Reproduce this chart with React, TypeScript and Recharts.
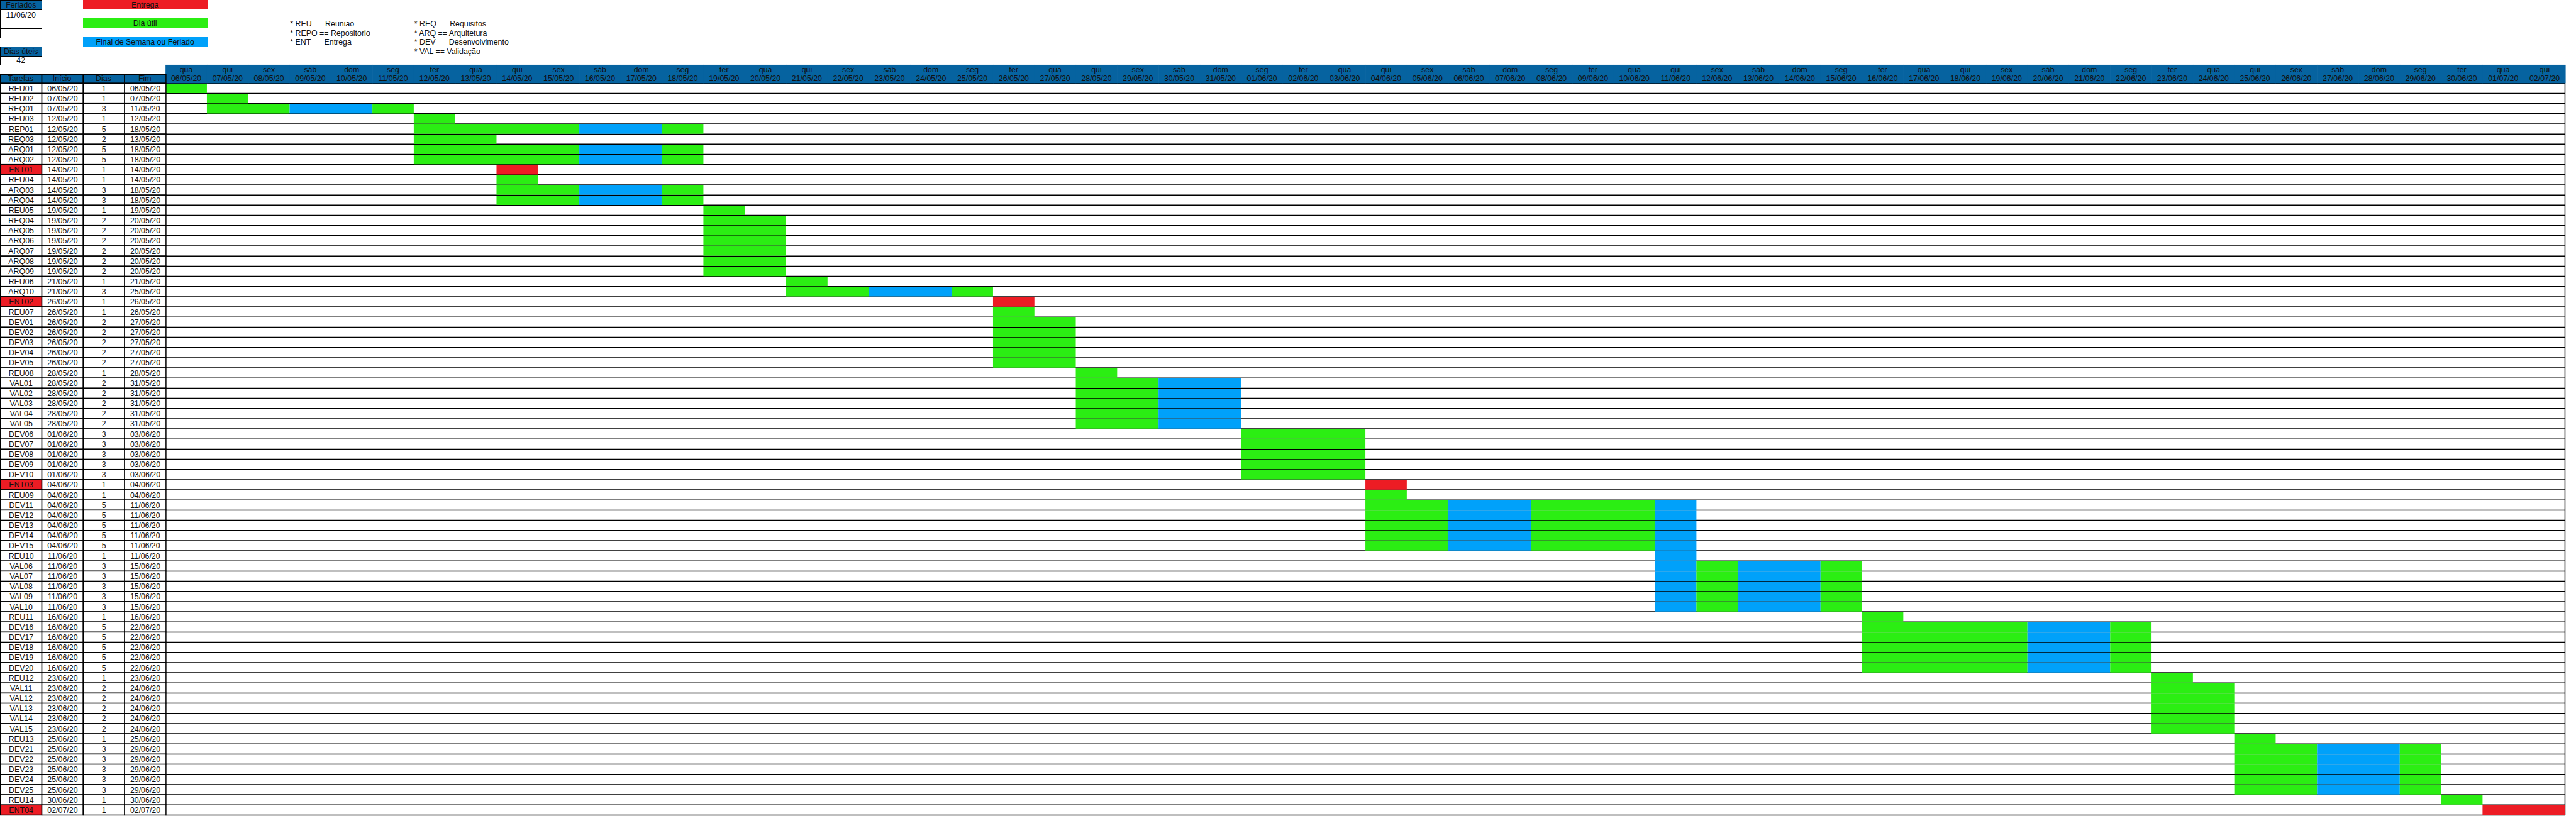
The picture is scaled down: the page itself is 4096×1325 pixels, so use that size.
import React from 'react';
import { BarChart, Bar, XAxis, YAxis, CartesianGrid, Cell } from 'recharts';

// ---------- data ----------
const weekdays = [
  'qua', 'qui', 'sex', 'sáb', 'dom', 'seg', 'ter',
  'qua', 'qui', 'sex', 'sáb', 'dom', 'seg', 'ter',
  'qua', 'qui', 'sex', 'sáb', 'dom', 'seg', 'ter',
  'qua', 'qui', 'sex', 'sáb', 'dom', 'seg', 'ter',
  'qua', 'qui', 'sex', 'sáb', 'dom', 'seg', 'ter',
  'qua', 'qui', 'sex', 'sáb', 'dom', 'seg', 'ter',
  'qua', 'qui', 'sex', 'sáb', 'dom', 'seg', 'ter',
  'qua', 'qui', 'sex', 'sáb', 'dom', 'seg', 'ter',
  'qua', 'qui',
];
const dates = [
  '06/05/20', '07/05/20', '08/05/20', '09/05/20', '10/05/20', '11/05/20', '12/05/20',
  '13/05/20', '14/05/20', '15/05/20', '16/05/20', '17/05/20', '18/05/20', '19/05/20',
  '20/05/20', '21/05/20', '22/05/20', '23/05/20', '24/05/20', '25/05/20', '26/05/20',
  '27/05/20', '28/05/20', '29/05/20', '30/05/20', '31/05/20', '01/06/20', '02/06/20',
  '03/06/20', '04/06/20', '05/06/20', '06/06/20', '07/06/20', '08/06/20', '09/06/20',
  '10/06/20', '11/06/20', '12/06/20', '13/06/20', '14/06/20', '15/06/20', '16/06/20',
  '17/06/20', '18/06/20', '19/06/20', '20/06/20', '21/06/20', '22/06/20', '23/06/20',
  '24/06/20', '25/06/20', '26/06/20', '27/06/20', '28/06/20', '29/06/20', '30/06/20',
  '01/07/20', '02/07/20',
];
const holidays = ['11/06/20'];

const tasks = [
  'REU01', 'REU02', 'REQ01', 'REU03', 'REP01', 'REQ03', 'ARQ01', 'ARQ02', 'ENT01', 'REU04',
  'ARQ03', 'ARQ04', 'REU05', 'REQ04', 'ARQ05', 'ARQ06', 'ARQ07', 'ARQ08', 'ARQ09', 'REU06',
  'ARQ10', 'ENT02', 'REU07', 'DEV01', 'DEV02', 'DEV03', 'DEV04', 'DEV05', 'REU08', 'VAL01',
  'VAL02', 'VAL03', 'VAL04', 'VAL05', 'DEV06', 'DEV07', 'DEV08', 'DEV09', 'DEV10', 'ENT03',
  'REU09', 'DEV11', 'DEV12', 'DEV13', 'DEV14', 'DEV15', 'REU10', 'VAL06', 'VAL07', 'VAL08',
  'VAL09', 'VAL10', 'REU11', 'DEV16', 'DEV17', 'DEV18', 'DEV19', 'DEV20', 'REU12', 'VAL11',
  'VAL12', 'VAL13', 'VAL14', 'VAL15', 'REU13', 'DEV21', 'DEV22', 'DEV23', 'DEV24', 'DEV25',
  'REU14', 'ENT04',
];
const inicio = [
  '06/05/20', '07/05/20', '07/05/20', '12/05/20', '12/05/20', '12/05/20', '12/05/20', '12/05/20', '14/05/20', '14/05/20',
  '14/05/20', '14/05/20', '19/05/20', '19/05/20', '19/05/20', '19/05/20', '19/05/20', '19/05/20', '19/05/20', '21/05/20',
  '21/05/20', '26/05/20', '26/05/20', '26/05/20', '26/05/20', '26/05/20', '26/05/20', '26/05/20', '28/05/20', '28/05/20',
  '28/05/20', '28/05/20', '28/05/20', '28/05/20', '01/06/20', '01/06/20', '01/06/20', '01/06/20', '01/06/20', '04/06/20',
  '04/06/20', '04/06/20', '04/06/20', '04/06/20', '04/06/20', '04/06/20', '11/06/20', '11/06/20', '11/06/20', '11/06/20',
  '11/06/20', '11/06/20', '16/06/20', '16/06/20', '16/06/20', '16/06/20', '16/06/20', '16/06/20', '23/06/20', '23/06/20',
  '23/06/20', '23/06/20', '23/06/20', '23/06/20', '25/06/20', '25/06/20', '25/06/20', '25/06/20', '25/06/20', '25/06/20',
  '30/06/20', '02/07/20',
];
const dias = [
  1, 1, 3, 1, 5, 2, 5, 5, 1, 1,
  3, 3, 1, 2, 2, 2, 2, 2, 2, 1,
  3, 1, 1, 2, 2, 2, 2, 2, 1, 2,
  2, 2, 2, 2, 3, 3, 3, 3, 3, 1,
  1, 5, 5, 5, 5, 5, 1, 3, 3, 3,
  3, 3, 1, 5, 5, 5, 5, 5, 1, 2,
  2, 2, 2, 2, 1, 3, 3, 3, 3, 3,
  1, 1,
];
const fim = [
  '06/05/20', '07/05/20', '11/05/20', '12/05/20', '18/05/20', '13/05/20', '18/05/20', '18/05/20', '14/05/20', '14/05/20',
  '18/05/20', '18/05/20', '19/05/20', '20/05/20', '20/05/20', '20/05/20', '20/05/20', '20/05/20', '20/05/20', '21/05/20',
  '25/05/20', '26/05/20', '26/05/20', '27/05/20', '27/05/20', '27/05/20', '27/05/20', '27/05/20', '28/05/20', '31/05/20',
  '31/05/20', '31/05/20', '31/05/20', '31/05/20', '03/06/20', '03/06/20', '03/06/20', '03/06/20', '03/06/20', '04/06/20',
  '04/06/20', '11/06/20', '11/06/20', '11/06/20', '11/06/20', '11/06/20', '11/06/20', '15/06/20', '15/06/20', '15/06/20',
  '15/06/20', '15/06/20', '16/06/20', '22/06/20', '22/06/20', '22/06/20', '22/06/20', '22/06/20', '23/06/20', '24/06/20',
  '24/06/20', '24/06/20', '24/06/20', '24/06/20', '25/06/20', '29/06/20', '29/06/20', '29/06/20', '29/06/20', '29/06/20',
  '30/06/20', '02/07/20',
];
// the drawn bar for ENT04 covers 01/07 and 02/07 in the picture
const barOverrides: Record<string, [string, string]> = { ENT04: ['01/07/20', '02/07/20'] };

const diasUteis = 42;
const legendItems = [
  { label: 'Entrega', color: '#ED1C24' },
  { label: 'Dia útil', color: '#2BEE13' },
  { label: 'Final de Semana ou Feriado', color: '#00A1FA' },
];
const notesLeft = ['* REU == Reuniao', '* REPO == Repositorio', '* ENT == Entrega'];
const notesRight = ['* REQ == Requisitos', '* ARQ == Arquitetura', '* DEV == Desenvolvimento', '* VAL == Validação'];
const tableHeaders = ['Tarefas', 'Início', 'Dias', 'Fim'];

// ---------- style ----------
const S = 0.774;
const W = 4096;
const H = 1325;
const FONT = '"Liberation Sans", Arial, Helvetica, sans-serif';
const FS = 12.4;
const TXT = '#111';
const HEAD = '#0663A0';
const GREEN = '#2BEE13';
const BLUE = '#00A1FA';
const RED = '#ED1C24';
const COL = 85 * S;
const MARGIN = { top: 133 * S, right: W - 5270 * S, bottom: H - 1675 * S, left: 0 };
const XAXIS_H = 38 * S;
const PLOT_TOP = MARGIN.top + XAXIS_H;
const PLOT_H = H - MARGIN.bottom - PLOT_TOP;
const BAND = PLOT_H / tasks.length;
const PLOT_W = W - MARGIN.right - 4 * COL;
const DAY_W = PLOT_W / dates.length;

// ---------- derived chart rows ----------
const isOff = (i: number) =>
  weekdays[i] === 'sáb' || weekdays[i] === 'dom' || holidays.includes(dates[i]);
const MAXSEG = 4;
const rows = tasks.map((t, k) => {
  const [from, to] = barOverrides[t] ?? [inicio[k], fim[k]];
  const a = dates.indexOf(from);
  const b = dates.indexOf(to);
  const runs: { color: string; len: number }[] = [];
  for (let i = a; i <= b; i++) {
    const c = t.startsWith('ENT') ? RED : isOff(i) ? BLUE : GREEN;
    if (runs.length && runs[runs.length - 1].color === c) runs[runs.length - 1].len += 1;
    else runs.push({ color: c, len: 1 });
  }
  const row: any = { task: t, pad: a, colors: runs.map((r) => r.color) };
  for (let s = 0; s < MAXSEG; s++) row['s' + s] = runs[s] ? runs[s].len : 0;
  return row;
});
const tickVals = dates.map((_, i) => i + 0.5);

// ---------- ticks ----------
const DayTick = (props: any) => {
  const { x, payload } = props;
  const i = Math.floor(payload.value);
  const first = i === 0;
  return (
    <g>
      <rect x={x - DAY_W / 2} y={MARGIN.top} width={DAY_W + 0.6} height={XAXIS_H} fill={HEAD} />
      <text x={x} y={144 * S} textAnchor="middle" dominantBaseline="central" fontSize={FS} fill={TXT} fontFamily={FONT}>
        {weekdays[i]}
      </text>
      <text x={x} y={162 * S} textAnchor="middle" dominantBaseline="central" fontSize={FS} fill={TXT} fontFamily={FONT}>
        {dates[i]}
      </text>
      {first &&
        tableHeaders.map((h, c) => (
          <g key={h}>
            <rect x={c * COL + 0.75} y={153 * S} width={COL} height={PLOT_TOP - 153 * S} fill={HEAD} stroke="#000" strokeWidth={1.5} />
            <text x={c * COL + COL / 2} y={(153 * S + PLOT_TOP) / 2} textAnchor="middle" dominantBaseline="central" fontSize={FS} fill={TXT} fontFamily={FONT}>
              {h}
            </text>
          </g>
        ))}
    </g>
  );
};

const TaskTick = (props: any) => {
  const { y, payload } = props;
  const k = tasks.indexOf(payload.value);
  if (k < 0) return null;
  const ent = tasks[k].startsWith('ENT');
  const cells = [tasks[k], inicio[k], String(dias[k]), fim[k]];
  const top = y - BAND / 2;
  return (
    <g>
      {cells.map((txt, c) => (
        <g key={c}>
          <rect x={c * COL + 0.75} y={top} width={COL} height={BAND} fill={c === 0 && ent ? RED : '#fff'} stroke="#000" strokeWidth={1.5} />
          <text x={c * COL + COL / 2 + 0.75} y={y + 0.5} textAnchor="middle" dominantBaseline="central" fontSize={FS} fill={TXT} fontFamily={FONT}>
            {txt}
          </text>
        </g>
      ))}
    </g>
  );
};

// ---------- html side boxes ----------
const Box = ({ left, top, width, height, bg, text, border }: any) => (
  <div
    style={{
      position: 'absolute', left, top, width, height, background: bg,
      border: border ? '1.5px solid #000' : 'none', boxSizing: 'border-box',
      display: 'flex', alignItems: 'center', justifyContent: 'center',
      fontSize: FS, color: TXT, fontFamily: FONT, whiteSpace: 'nowrap',
    }}
  >
    {text}
  </div>
);

export default function App() {
  const ferTops = [0, 20, 39, 58, 77].map((v) => v * S);
  const ferTexts = ['Feriados', holidays[0] ?? '', '', ''];
  const legTops = [0, 38, 76];
  return (
    <div style={{ position: 'absolute', left: 0, top: 0, width: W, height: H, background: '#fff', overflow: 'hidden', fontFamily: FONT }}>
      {ferTexts.map((t, i) => (
        <Box key={i} left={0} top={ferTops[i]} width={COL + 0.75} height={ferTops[i + 1] - ferTops[i] + 1.5} bg={i === 0 ? HEAD : '#fff'} text={t} border />
      ))}
      <Box left={0} top={96 * S} width={COL + 0.75} height={19 * S + 1.5} bg={HEAD} text="Dias úteis" border />
      <Box left={0} top={115 * S} width={COL + 0.75} height={19 * S} bg="#fff" text={String(diasUteis)} border />
      {legendItems.map((it, i) => (
        <Box key={it.label} left={170 * S} top={legTops[i] * S} width={256 * S} height={20 * S} bg={it.color} text={it.label} />
      ))}
      {notesLeft.map((n, i) => (
        <div key={n} style={{ position: 'absolute', left: 596 * S, top: (49 + 19 * i) * S - 8, height: 16, lineHeight: '16px', fontSize: FS, color: TXT, whiteSpace: 'nowrap' }}>
          {n}
        </div>
      ))}
      {notesRight.map((n, i) => (
        <div key={n} style={{ position: 'absolute', left: 851 * S, top: (49 + 19 * i) * S - 8, height: 16, lineHeight: '16px', fontSize: FS, color: TXT, whiteSpace: 'nowrap' }}>
          {n}
        </div>
      ))}
      <div style={{ position: 'absolute', left: 0, top: 0 }}>
        <BarChart width={W} height={H} data={rows} layout="vertical" margin={MARGIN} barCategoryGap={0.75}>
          <CartesianGrid
            stroke="#000"
            strokeWidth={1.5}
            horizontal
            vertical
            horizontalCoordinatesGenerator={({ offset }: any) =>
              Array.from({ length: tasks.length + 1 }, (_, i) => offset.top + (i * offset.height) / tasks.length)
            }
            verticalCoordinatesGenerator={({ offset }: any) => [offset.left + offset.width - 0.5]}
          />
          <XAxis
            type="number"
            orientation="top"
            domain={[0, dates.length]}
            ticks={tickVals}
            interval={0}
            height={XAXIS_H}
            tick={<DayTick />}
            tickLine={false}
            axisLine={false}
            allowDataOverflow
          />
          <YAxis type="category" dataKey="task" width={4 * COL} interval={0} tick={<TaskTick />} tickLine={false} axisLine={false} />
          <Bar dataKey="pad" stackId="g" fill="transparent" fillOpacity={0} isAnimationActive={false} />
          {Array.from({ length: MAXSEG }, (_, s) => (
            <Bar key={s} dataKey={'s' + s} stackId="g" isAnimationActive={false}>
              {rows.map((r: any, i: number) => (
                <Cell key={i} fill={r.colors[s] ?? 'none'} />
              ))}
            </Bar>
          ))}
        </BarChart>
      </div>
    </div>
  );
}
